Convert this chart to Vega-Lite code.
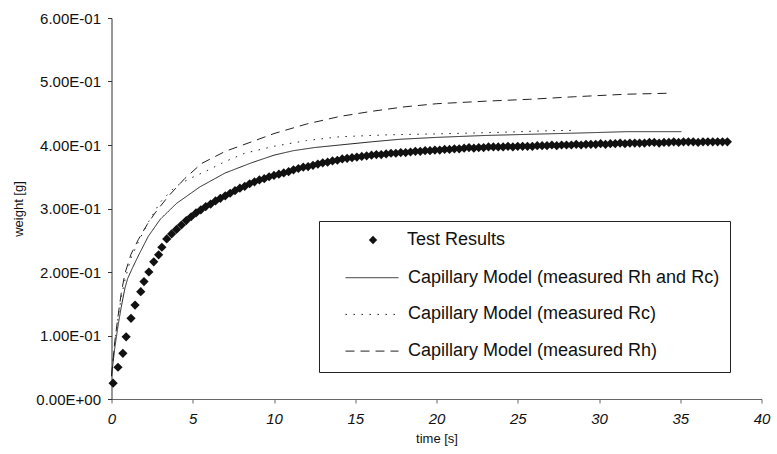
{
  "$schema": "https://vega.github.io/schema/vega-lite/v6.json",
  "autosize": "none",
  "padding": {"left": 111.5, "top": 18, "right": 15.5, "bottom": 55},
  "width": 650,
  "height": 381,
  "background": "white",
  "config": {
    "view": {"stroke": null},
    "font": "Liberation Sans",
    "axis": {"grid": false, "titleFontWeight": "normal", "titleFont": "Liberation Sans", "labelFont": "Liberation Sans", "labelColor": "#111", "titleColor": "#111"},
    "legend": {"title": null, "direction": "vertical", "labelFont": "Liberation Sans", "labelFontSize": 18, "labelColor": "#111", "labelLimit": 500}
  },
  "data": {"values": [
    {"series": "Test Results", "t": 0.1, "w": 0.025},
    {"series": "Test Results", "t": 0.4, "w": 0.050},
    {"series": "Test Results", "t": 0.7, "w": 0.072},
    {"series": "Test Results", "t": 0.9, "w": 0.098},
    {"series": "Test Results", "t": 1.2, "w": 0.127},
    {"series": "Test Results", "t": 1.45, "w": 0.148},
    {"series": "Test Results", "t": 1.8, "w": 0.169},
    {"series": "Test Results", "t": 2.0, "w": 0.185},
    {"series": "Test Results", "t": 2.3, "w": 0.200},
    {"series": "Test Results", "t": 2.6, "w": 0.216},
    {"series": "Test Results", "t": 2.9, "w": 0.227},
    {"series": "Test Results", "t": 3.1, "w": 0.239},
    {"series": "Test Results", "t": 3.4, "w": 0.252},
    {"series": "Test Results", "t": 3.7, "w": 0.260},
    {"series": "Test Results", "t": 4.0, "w": 0.267},
    {"series": "Test Results", "t": 4.3, "w": 0.274},
    {"series": "Test Results", "t": 4.6, "w": 0.281},
    {"series": "Test Results", "t": 4.9, "w": 0.287},
    {"series": "Test Results", "t": 5.2, "w": 0.293},
    {"series": "Test Results", "t": 5.5, "w": 0.298},
    {"series": "Test Results", "t": 5.8, "w": 0.303},
    {"series": "Test Results", "t": 6.1, "w": 0.307},
    {"series": "Test Results", "t": 6.4, "w": 0.312},
    {"series": "Test Results", "t": 6.7, "w": 0.316},
    {"series": "Test Results", "t": 7.0, "w": 0.320},
    {"series": "Test Results", "t": 7.3, "w": 0.324},
    {"series": "Test Results", "t": 7.6, "w": 0.328},
    {"series": "Test Results", "t": 7.9, "w": 0.332},
    {"series": "Test Results", "t": 8.2, "w": 0.335},
    {"series": "Test Results", "t": 8.5, "w": 0.339},
    {"series": "Test Results", "t": 8.8, "w": 0.342},
    {"series": "Test Results", "t": 9.1, "w": 0.345},
    {"series": "Test Results", "t": 9.4, "w": 0.347},
    {"series": "Test Results", "t": 9.7, "w": 0.350},
    {"series": "Test Results", "t": 10.0, "w": 0.352},
    {"series": "Test Results", "t": 10.3, "w": 0.354},
    {"series": "Test Results", "t": 10.6, "w": 0.356},
    {"series": "Test Results", "t": 10.9, "w": 0.358},
    {"series": "Test Results", "t": 11.2, "w": 0.361},
    {"series": "Test Results", "t": 11.5, "w": 0.363},
    {"series": "Test Results", "t": 11.8, "w": 0.365},
    {"series": "Test Results", "t": 12.1, "w": 0.366},
    {"series": "Test Results", "t": 12.4, "w": 0.368},
    {"series": "Test Results", "t": 12.7, "w": 0.370},
    {"series": "Test Results", "t": 13.0, "w": 0.372},
    {"series": "Test Results", "t": 13.3, "w": 0.373},
    {"series": "Test Results", "t": 13.6, "w": 0.375},
    {"series": "Test Results", "t": 13.9, "w": 0.376},
    {"series": "Test Results", "t": 14.2, "w": 0.378},
    {"series": "Test Results", "t": 14.5, "w": 0.379},
    {"series": "Test Results", "t": 14.8, "w": 0.380},
    {"series": "Test Results", "t": 15.1, "w": 0.381},
    {"series": "Test Results", "t": 15.4, "w": 0.382},
    {"series": "Test Results", "t": 15.7, "w": 0.383},
    {"series": "Test Results", "t": 16.0, "w": 0.384},
    {"series": "Test Results", "t": 16.3, "w": 0.385},
    {"series": "Test Results", "t": 16.6, "w": 0.385},
    {"series": "Test Results", "t": 16.9, "w": 0.386},
    {"series": "Test Results", "t": 17.2, "w": 0.387},
    {"series": "Test Results", "t": 17.5, "w": 0.387},
    {"series": "Test Results", "t": 17.8, "w": 0.388},
    {"series": "Test Results", "t": 18.1, "w": 0.388},
    {"series": "Test Results", "t": 18.4, "w": 0.389},
    {"series": "Test Results", "t": 18.7, "w": 0.390},
    {"series": "Test Results", "t": 19.0, "w": 0.390},
    {"series": "Test Results", "t": 19.3, "w": 0.391},
    {"series": "Test Results", "t": 19.6, "w": 0.391},
    {"series": "Test Results", "t": 19.9, "w": 0.392},
    {"series": "Test Results", "t": 20.2, "w": 0.392},
    {"series": "Test Results", "t": 20.5, "w": 0.393},
    {"series": "Test Results", "t": 20.8, "w": 0.393},
    {"series": "Test Results", "t": 21.1, "w": 0.394},
    {"series": "Test Results", "t": 21.4, "w": 0.394},
    {"series": "Test Results", "t": 21.7, "w": 0.395},
    {"series": "Test Results", "t": 22.0, "w": 0.396},
    {"series": "Test Results", "t": 22.3, "w": 0.395},
    {"series": "Test Results", "t": 22.6, "w": 0.396},
    {"series": "Test Results", "t": 22.9, "w": 0.396},
    {"series": "Test Results", "t": 23.2, "w": 0.397},
    {"series": "Test Results", "t": 23.5, "w": 0.397},
    {"series": "Test Results", "t": 23.8, "w": 0.397},
    {"series": "Test Results", "t": 24.1, "w": 0.397},
    {"series": "Test Results", "t": 24.4, "w": 0.398},
    {"series": "Test Results", "t": 24.7, "w": 0.397},
    {"series": "Test Results", "t": 25.0, "w": 0.398},
    {"series": "Test Results", "t": 25.3, "w": 0.398},
    {"series": "Test Results", "t": 25.6, "w": 0.398},
    {"series": "Test Results", "t": 25.9, "w": 0.398},
    {"series": "Test Results", "t": 26.2, "w": 0.399},
    {"series": "Test Results", "t": 26.5, "w": 0.399},
    {"series": "Test Results", "t": 26.8, "w": 0.399},
    {"series": "Test Results", "t": 27.1, "w": 0.400},
    {"series": "Test Results", "t": 27.4, "w": 0.399},
    {"series": "Test Results", "t": 27.7, "w": 0.400},
    {"series": "Test Results", "t": 28.0, "w": 0.400},
    {"series": "Test Results", "t": 28.3, "w": 0.400},
    {"series": "Test Results", "t": 28.6, "w": 0.401},
    {"series": "Test Results", "t": 28.9, "w": 0.400},
    {"series": "Test Results", "t": 29.2, "w": 0.401},
    {"series": "Test Results", "t": 29.5, "w": 0.401},
    {"series": "Test Results", "t": 29.8, "w": 0.401},
    {"series": "Test Results", "t": 30.1, "w": 0.402},
    {"series": "Test Results", "t": 30.4, "w": 0.401},
    {"series": "Test Results", "t": 30.7, "w": 0.402},
    {"series": "Test Results", "t": 31.0, "w": 0.402},
    {"series": "Test Results", "t": 31.3, "w": 0.403},
    {"series": "Test Results", "t": 31.6, "w": 0.402},
    {"series": "Test Results", "t": 31.9, "w": 0.403},
    {"series": "Test Results", "t": 32.2, "w": 0.403},
    {"series": "Test Results", "t": 32.5, "w": 0.403},
    {"series": "Test Results", "t": 32.8, "w": 0.403},
    {"series": "Test Results", "t": 33.1, "w": 0.404},
    {"series": "Test Results", "t": 33.4, "w": 0.404},
    {"series": "Test Results", "t": 33.7, "w": 0.403},
    {"series": "Test Results", "t": 34.0, "w": 0.404},
    {"series": "Test Results", "t": 34.3, "w": 0.404},
    {"series": "Test Results", "t": 34.6, "w": 0.405},
    {"series": "Test Results", "t": 34.9, "w": 0.404},
    {"series": "Test Results", "t": 35.2, "w": 0.405},
    {"series": "Test Results", "t": 35.5, "w": 0.405},
    {"series": "Test Results", "t": 35.8, "w": 0.405},
    {"series": "Test Results", "t": 36.1, "w": 0.404},
    {"series": "Test Results", "t": 36.4, "w": 0.405},
    {"series": "Test Results", "t": 36.7, "w": 0.405},
    {"series": "Test Results", "t": 37.0, "w": 0.405},
    {"series": "Test Results", "t": 37.3, "w": 0.405},
    {"series": "Test Results", "t": 37.6, "w": 0.405},
    {"series": "Test Results", "t": 37.9, "w": 0.405},

    {"series": "Capillary Model (measured Rh and Rc)", "t": 0, "w": 0.036},
    {"series": "Capillary Model (measured Rh and Rc)", "t": 0.2, "w": 0.080},
    {"series": "Capillary Model (measured Rh and Rc)", "t": 0.4, "w": 0.115},
    {"series": "Capillary Model (measured Rh and Rc)", "t": 0.6, "w": 0.145},
    {"series": "Capillary Model (measured Rh and Rc)", "t": 0.83, "w": 0.175},
    {"series": "Capillary Model (measured Rh and Rc)", "t": 1.0, "w": 0.190},
    {"series": "Capillary Model (measured Rh and Rc)", "t": 1.3, "w": 0.207},
    {"series": "Capillary Model (measured Rh and Rc)", "t": 1.7, "w": 0.228},
    {"series": "Capillary Model (measured Rh and Rc)", "t": 2.26, "w": 0.256},
    {"series": "Capillary Model (measured Rh and Rc)", "t": 3.0, "w": 0.283},
    {"series": "Capillary Model (measured Rh and Rc)", "t": 4.0, "w": 0.308},
    {"series": "Capillary Model (measured Rh and Rc)", "t": 5.44, "w": 0.334},
    {"series": "Capillary Model (measured Rh and Rc)", "t": 7.0, "w": 0.356},
    {"series": "Capillary Model (measured Rh and Rc)", "t": 8.62, "w": 0.372},
    {"series": "Capillary Model (measured Rh and Rc)", "t": 10.0, "w": 0.384},
    {"series": "Capillary Model (measured Rh and Rc)", "t": 11.18, "w": 0.391},
    {"series": "Capillary Model (measured Rh and Rc)", "t": 12.5, "w": 0.396},
    {"series": "Capillary Model (measured Rh and Rc)", "t": 14.05, "w": 0.400},
    {"series": "Capillary Model (measured Rh and Rc)", "t": 16.0, "w": 0.405},
    {"series": "Capillary Model (measured Rh and Rc)", "t": 17.74, "w": 0.409},
    {"series": "Capillary Model (measured Rh and Rc)", "t": 20.0, "w": 0.412},
    {"series": "Capillary Model (measured Rh and Rc)", "t": 23.0, "w": 0.415},
    {"series": "Capillary Model (measured Rh and Rc)", "t": 26.0, "w": 0.417},
    {"series": "Capillary Model (measured Rh and Rc)", "t": 29.0, "w": 0.419},
    {"series": "Capillary Model (measured Rh and Rc)", "t": 31.7, "w": 0.421},
    {"series": "Capillary Model (measured Rh and Rc)", "t": 35.07, "w": 0.421},

    {"series": "Capillary Model (measured Rc)", "t": 0, "w": 0.036},
    {"series": "Capillary Model (measured Rc)", "t": 0.2, "w": 0.088},
    {"series": "Capillary Model (measured Rc)", "t": 0.4, "w": 0.127},
    {"series": "Capillary Model (measured Rc)", "t": 0.6, "w": 0.160},
    {"series": "Capillary Model (measured Rc)", "t": 0.85, "w": 0.190},
    {"series": "Capillary Model (measured Rc)", "t": 1.2, "w": 0.222},
    {"series": "Capillary Model (measured Rc)", "t": 1.7, "w": 0.250},
    {"series": "Capillary Model (measured Rc)", "t": 2.3, "w": 0.280},
    {"series": "Capillary Model (measured Rc)", "t": 3.0, "w": 0.310},
    {"series": "Capillary Model (measured Rc)", "t": 3.9, "w": 0.334},
    {"series": "Capillary Model (measured Rc)", "t": 4.8, "w": 0.347},
    {"series": "Capillary Model (measured Rc)", "t": 5.75, "w": 0.358},
    {"series": "Capillary Model (measured Rc)", "t": 7.0, "w": 0.374},
    {"series": "Capillary Model (measured Rc)", "t": 8.2, "w": 0.387},
    {"series": "Capillary Model (measured Rc)", "t": 10.0, "w": 0.398},
    {"series": "Capillary Model (measured Rc)", "t": 12.0, "w": 0.407},
    {"series": "Capillary Model (measured Rc)", "t": 14.05, "w": 0.413},
    {"series": "Capillary Model (measured Rc)", "t": 17.0, "w": 0.416},
    {"series": "Capillary Model (measured Rc)", "t": 20.0, "w": 0.4175},
    {"series": "Capillary Model (measured Rc)", "t": 24.0, "w": 0.420},
    {"series": "Capillary Model (measured Rc)", "t": 27.17, "w": 0.4227},
    {"series": "Capillary Model (measured Rc)", "t": 28.5, "w": 0.423},

    {"series": "Capillary Model (measured Rh)", "t": 0, "w": 0.036},
    {"series": "Capillary Model (measured Rh)", "t": 0.2, "w": 0.090},
    {"series": "Capillary Model (measured Rh)", "t": 0.4, "w": 0.130},
    {"series": "Capillary Model (measured Rh)", "t": 0.6, "w": 0.167},
    {"series": "Capillary Model (measured Rh)", "t": 0.83, "w": 0.198},
    {"series": "Capillary Model (measured Rh)", "t": 1.2, "w": 0.228},
    {"series": "Capillary Model (measured Rh)", "t": 1.65, "w": 0.251},
    {"series": "Capillary Model (measured Rh)", "t": 2.2, "w": 0.275},
    {"series": "Capillary Model (measured Rh)", "t": 2.68, "w": 0.293},
    {"series": "Capillary Model (measured Rh)", "t": 3.49, "w": 0.319},
    {"series": "Capillary Model (measured Rh)", "t": 4.5, "w": 0.347},
    {"series": "Capillary Model (measured Rh)", "t": 5.55, "w": 0.371},
    {"series": "Capillary Model (measured Rh)", "t": 7.0, "w": 0.390},
    {"series": "Capillary Model (measured Rh)", "t": 8.62, "w": 0.405},
    {"series": "Capillary Model (measured Rh)", "t": 10.0, "w": 0.418},
    {"series": "Capillary Model (measured Rh)", "t": 12.0, "w": 0.433},
    {"series": "Capillary Model (measured Rh)", "t": 14.05, "w": 0.445},
    {"series": "Capillary Model (measured Rh)", "t": 16.0, "w": 0.453},
    {"series": "Capillary Model (measured Rh)", "t": 18.0, "w": 0.460},
    {"series": "Capillary Model (measured Rh)", "t": 20.0, "w": 0.465},
    {"series": "Capillary Model (measured Rh)", "t": 23.0, "w": 0.469},
    {"series": "Capillary Model (measured Rh)", "t": 25.74, "w": 0.472},
    {"series": "Capillary Model (measured Rh)", "t": 28.5, "w": 0.476},
    {"series": "Capillary Model (measured Rh)", "t": 31.7, "w": 0.480},
    {"series": "Capillary Model (measured Rh)", "t": 34.24, "w": 0.4815}
  ]},
  "encoding": {
    "x": {"field": "t", "type": "quantitative",
      "scale": {"domain": [0, 40], "nice": false, "zero": false},
      "axis": {"title": "time [s]", "values": [0,5,10,15,20,25,30,35,40], "labelFontStyle": "italic", "labelFontSize": 15, "titleFontSize": 13, "tickSize": 4, "labelPadding": 8, "titlePadding": 6, "domainColor": "#666", "tickColor": "#666", "labelFlush": false}},
    "y": {"field": "w", "type": "quantitative",
      "scale": {"domain": [0, 0.6], "nice": false},
      "axis": {"title": "weight [g]", "values": [0,0.1,0.2,0.3,0.4,0.5,0.6], "labelExpr": "datum.value == 0 ? '0.00E+00' : format(datum.value * 10, '.2f') + 'E-01'", "labelFontSize": 15, "titleFontSize": 13, "tickSize": 4, "labelPadding": 7, "titlePadding": 10, "domainColor": "#333", "tickColor": "#333", "labelFlush": false}}
  },
  "layer": [
    {
      "transform": [{"filter": "datum.series !== 'Test Results'"}],
      "mark": {"type": "line", "color": "#222"},
      "encoding": {
        "strokeDash": {"field": "series", "type": "nominal",
          "scale": {"domain": ["Test Results", "Capillary Model (measured Rh and Rc)", "Capillary Model (measured Rc)", "Capillary Model (measured Rh)"],
                    "range": [[1, 0], [1, 0], [1.5, 6.5], [9, 6]]},
          "legend": {
            "orient": "none", "legendX": 207.5, "legendY": 203,
            "strokeColor": "#222", "fillColor": "white", "padding": 10,
            "symbolType": "stroke", "symbolSize": 2809, "symbolOffset": 16, "symbolStrokeWidth": 1.2, "symbolStrokeColor": "#222",
            "labelOffset": 9, "clipHeight": 20, "rowPadding": 16.7
          }},
        "strokeWidth": {"field": "series", "type": "nominal",
          "scale": {"domain": ["Test Results", "Capillary Model (measured Rh and Rc)", "Capillary Model (measured Rc)", "Capillary Model (measured Rh)"],
                    "range": [1, 1, 1.3, 1.8]},
          "legend": null}
      }
    },
    {
      "transform": [{"filter": "datum.series === 'Test Results'"}],
      "mark": {"type": "point", "filled": true, "color": "#111", "size": 85, "opacity": 1},
      "encoding": {
        "shape": {"field": "series", "type": "nominal",
          "scale": {"domain": ["Test Results"], "range": ["diamond"]},
          "legend": {
            "orient": "none", "legendX": 230.5, "legendY": 210,
            "fillColor": "white", "strokeColor": "white", "padding": 3,
            "symbolSize": 70, "symbolOffset": 19, "symbolFillColor": "#111",
            "labelOffset": 25
          }}
      }
    }
  ]
}
